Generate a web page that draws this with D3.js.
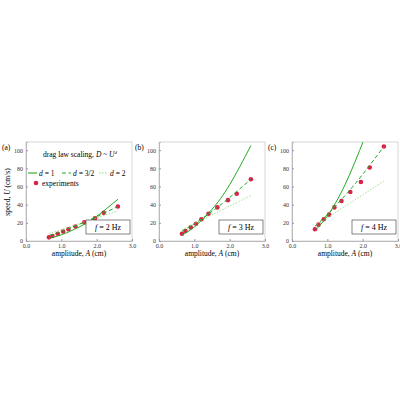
<!DOCTYPE html><html><head><meta charset="utf-8"><script src="https://cdn.jsdelivr.net/npm/d3@7"></script>
<style>body{margin:0;background:#fff}svg{font-family:"Liberation Serif","DejaVu Serif",serif}</style></head><body><svg id="c" width="400" height="400"></svg><script>
const panels=["(a)","(b)","(c)"];
const freqs=["2","3","4"];
const expA=[0.65,0.75,0.9,1.05,1.2,1.4,1.65,1.95,2.2,2.6];
const expU=[[4,5.5,8,10.5,13,16,20.5,25,31,38],[8,11,15,19,24,30,37,45,52,68],[13,18,24,29,37,44,54,65,81,104]];
const fitA=[0.65,1,1.5,2,2.6];
const fitA1c=[0.65,1,1.5,2.05];
const d1=[[2.9,6.8,15.3,27.2,46],[6.6,15.5,34.9,62,105],[11.6,27.5,61.9,113]];
const d32=[[6,10.6,18.3,26.8,38],[10.7,19,32.6,47.9,68],[16.4,29.1,50,73.3,104]];
const d2=[[8.3,12.7,19,25.4,33],[12.5,19.2,28.8,38.5,50],[16.5,25.4,38.1,50.8,66]];
const xTicks=[0,1,2,3], yTicks=[0,20,40,60,80,100];
const svg=d3.select("#c");
const lefts=[26,159,292], W=106, yTop=142, yBot=241;
const y=d3.scaleLinear().domain([0,109]).range([yBot,yTop]);
const styles=[{c:"#22aa22",w:1,da:null},{c:"#22aa22",w:1,da:"4,2.5"},{c:"#88dd77",w:0.8,da:"1.5,1.5"}];
panels.forEach((p,i)=>{
  const x=d3.scaleLinear().domain([0,3]).range([lefts[i],lefts[i]+W]);
  const g=svg.append("g");
  const id="clip"+i;
  svg.append("clipPath").attr("id",id).append("rect").attr("x",lefts[i]).attr("y",yTop).attr("width",W).attr("height",yBot-yTop);
  g.append("rect").attr("x",lefts[i]).attr("y",yTop).attr("width",W).attr("height",yBot-yTop).attr("fill","none").attr("stroke","#bbb").attr("stroke-width",0.6);
  const ax=g.append("g").attr("transform",`translate(0,${yBot})`).call(d3.axisBottom(x).tickValues(xTicks).tickSize(-2).tickPadding(3));
  const ay=g.append("g").attr("transform",`translate(${lefts[i]},0)`).call(d3.axisLeft(y).tickValues(yTicks).tickSize(-2).tickPadding(3));
  [ax,ay].forEach(a=>{a.select(".domain").attr("stroke","#999").attr("stroke-width",0.6);a.selectAll("line").attr("stroke","#999");a.selectAll("text").attr("font-size",6).attr("fill","#333").attr("font-family","Liberation Serif");});
  const line=d3.line().curve(d3.curveNatural).x(d=>x(d[0])).y(d=>y(d[1]));
  const cg=g.append("g").attr("clip-path",`url(#${id})`);
  const sets=[(i==2?fitA1c:fitA).map((a,k)=>[a,d1[i][k]]),fitA.map((a,k)=>[a,d32[i][k]]),fitA.map((a,k)=>[a,d2[i][k]])];
  cg.selectAll("circle").data(expA).join("circle").attr("cx",d=>x(d)).attr("cy",(d,k)=>y(expU[i][k])).attr("r",2.3).attr("fill","#dd1f4a");
  [2,1,0].forEach(s=>cg.append("path").attr("d",line(sets[s])).attr("fill","none").attr("stroke",styles[s].c).attr("stroke-width",styles[s].w).attr("stroke-dasharray",styles[s].da));
  g.append("text").attr("x",lefts[i]-24).attr("y",150).attr("font-size",7.5).text(p);
  g.append("text").attr("x",lefts[i]+W/2).attr("y",256).attr("text-anchor","middle").attr("font-size",7.5).html('amplitude, <tspan font-style="italic">A</tspan> (cm)');
  const bx=lefts[i]+W-46;
  g.append("rect").attr("x",bx).attr("y",yBot-21).attr("width",44).attr("height",14).attr("fill","#fff").attr("stroke","#333").attr("stroke-width",0.6);
  g.append("text").attr("x",bx+22).attr("y",yBot-11).attr("text-anchor","middle").attr("font-size",8).html(`<tspan font-style="italic">f</tspan> = ${freqs[i]} Hz`);
});
svg.append("text").attr("transform","translate(10,192) rotate(-90)").attr("text-anchor","middle").attr("font-size",7.5).html('speed, <tspan font-style="italic">U</tspan> (cm/s)');
svg.append("text").attr("x",80).attr("y",157).attr("text-anchor","middle").attr("font-size",7.5).html('drag law scaling, <tspan font-style="italic">D</tspan> ~ <tspan font-style="italic">U</tspan><tspan font-size="5" dy="-3" font-style="italic">d</tspan>');
const legLabels=["1","3/2","2"], legX=[28,62,99];
legLabels.forEach((l,s)=>{
  svg.append("line").attr("x1",legX[s]).attr("x2",legX[s]+9).attr("y1",173).attr("y2",173).attr("stroke",styles[s].c).attr("stroke-width",1.1).attr("stroke-dasharray",styles[s].da);
  svg.append("text").attr("x",legX[s]+11).attr("y",175.5).attr("font-size",7.5).html(`<tspan font-style="italic">d</tspan> = ${l}`);
});
svg.append("circle").attr("cx",36).attr("cy",183).attr("r",2.3).attr("fill","#dd1f4a");
svg.append("text").attr("x",42).attr("y",185.5).attr("font-size",7.5).text("experiments");
</script></body></html>
